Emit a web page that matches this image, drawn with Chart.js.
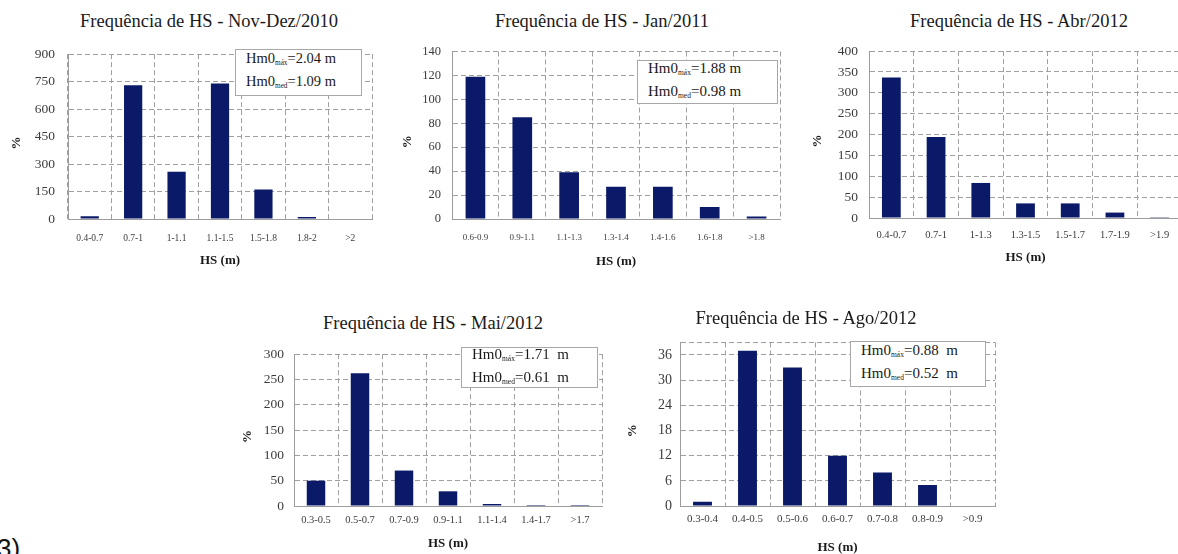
<!DOCTYPE html>
<html>
<head>
<meta charset="utf-8">
<script src="https://cdn.jsdelivr.net/npm/chart.js@4.4.1/dist/chart.umd.min.js"></script>
<style>
  html, body { margin: 0; padding: 0; background: #fff; }
  body { width: 1178px; height: 554px; position: relative; overflow: hidden; font-family: "Liberation Serif", serif; }
  canvas { position: absolute; }
  .title { position: absolute; transform: translate(-50%, -50%); white-space: nowrap; font-size: 18.5px; color: #1a1a1a; }
  .info { position: absolute; box-sizing: border-box; border: 1px solid #a8a8a8; background: #fff;
          display: flex; flex-direction: column; justify-content: center; padding-left: 10px; color: #1a1a1a; white-space: nowrap; }
  .info sub { font-size: 0.5em; vertical-align: -0.25em; }
  .tag { position: absolute; left: -3px; top: 533px; font-family: "Liberation Sans", sans-serif; font-size: 26px; color: #111; }
</style>
</head>
<body>
<script>
// ---------------- DATA ----------------
const novDez2010Labels = ['0.4-0.7', '0.7-1', '1-1.1', '1.1-1.5', '1.5-1.8', '1.8-2', '>2'];
const novDez2010Values = [15, 730, 258, 740, 161, 11, 0];
const novDez2010YTicks = [0, 150, 300, 450, 600, 750, 900];

const jan2011Labels = ['0.6-0.9', '0.9-1.1', '1.1-1.3', '1.3-1.4', '1.4-1.6', '1.6-1.8', '>1.8'];
const jan2011Values = [119, 85, 39, 27, 27, 10, 2];
const jan2011YTicks = [0, 20, 40, 60, 80, 100, 120, 140];

const abr2012Labels = ['0.4-0.7', '0.7-1', '1-1.3', '1.3-1.5', '1.5-1.7', '1.7-1.9', '>1.9'];
const abr2012Values = [337, 194, 84, 35, 35, 13, 2];
const abr2012YTicks = [0, 50, 100, 150, 200, 250, 300, 350, 400];

const mai2012Labels = ['0.3-0.5', '0.5-0.7', '0.7-0.9', '0.9-1.1', '1.1-1.4', '1.4-1.7', '>1.7'];
const mai2012Values = [50, 262, 70, 29, 4, 2, 2];
const mai2012YTicks = [0, 50, 100, 150, 200, 250, 300];

const ago2012Labels = ['0.3-0.4', '0.4-0.5', '0.5-0.6', '0.6-0.7', '0.7-0.8', '0.8-0.9', '>0.9'];
const ago2012Values = [1, 37, 33, 12, 8, 5, 0];
const ago2012YTicks = [0, 6, 12, 18, 24, 30, 36];

const chartTitles = ['Frequência de HS - Nov-Dez/2010', 'Frequência de HS - Jan/2011', 'Frequência de HS - Abr/2012',
                     'Frequência de HS - Mai/2012', 'Frequência de HS - Ago/2012'];
const hmaxTexts = ['2.04 m', '1.88 m', null, '1.71&nbsp; m', '0.88&nbsp; m'];
const hmedTexts = ['1.09 m', '0.98 m', null, '0.61&nbsp; m', '0.52&nbsp; m'];
const xAxisTitle = 'HS (m)';
const yAxisTitle = '%';

// ---------------- LAYOUT ----------------
const BAR = '#0b1a68';
const GRID = '#a0a0a0';
const TICK = '#3c3c3c';

const layouts = [
  { L: 68,  T: 42,  R: 372,  B: 219, yW: 59, xH: 49, yMax: 900, xFont: 9.5,  yFont: 13.5, yPad: 13, xPad: 14,
    title: [209, 21], info: [235, 49, 127, 47, 14.5] },
  { L: 452, T: 42,  R: 780,  B: 219, yW: 52, xH: 50, yMax: 140, xFont: 9,    yFont: 12.5, yPad: 11, xPad: 13,
    title: [602, 21], info: [637, 60, 141, 44, 15] },
  { L: 869, T: 41,  R: 1182, B: 218, yW: 59, xH: 47, yMax: 400, xFont: 10.5, yFont: 13.5, yPad: 11, xPad: 11,
    title: [1019, 21], info: null },
  { L: 294, T: 345, R: 602,  B: 506, yW: 54, xH: 45, yMax: 300, xFont: 10.5, yFont: 13.5, yPad: 10, xPad: 8,
    title: [433, 323], info: [461, 347, 137, 41, 15] },
  { L: 680, T: 335, R: 995,  B: 506, yW: 55, xH: 49, yMax: 39,  xFont: 11,   yFont: 14,   yPad: 8,  xPad: 7,
    title: [806, 318], info: [850, 341, 136, 46, 15] }
];

const datasets = [
  [novDez2010Labels, novDez2010Values, novDez2010YTicks],
  [jan2011Labels, jan2011Values, jan2011YTicks],
  [abr2012Labels, abr2012Values, abr2012YTicks],
  [mai2012Labels, mai2012Values, mai2012YTicks],
  [ago2012Labels, ago2012Values, ago2012YTicks]
];

const PAD_TOP = 9, PAD_RIGHT = 2;

datasets.forEach(([labels, values, yTicks], i) => {
  const c = layouts[i];
  const cv = document.createElement('canvas');
  const left = c.L - c.yW, top = c.T - PAD_TOP;
  const w = c.R - c.L + c.yW + PAD_RIGHT, h = c.B - c.T + PAD_TOP + c.xH;
  cv.width = w; cv.height = h;
  cv.style.left = left + 'px'; cv.style.top = top + 'px';
  cv.style.width = w + 'px'; cv.style.height = h + 'px';
  document.body.appendChild(cv);

  new Chart(cv, {
    type: 'bar',
    data: { labels: labels, datasets: [{ data: values, backgroundColor: BAR, borderWidth: 0,
                                         barPercentage: 0.42, categoryPercentage: 1.0 }] },
    options: {
      responsive: false, animation: false, devicePixelRatio: 1,
      layout: { padding: { top: PAD_TOP, right: PAD_RIGHT, left: 0, bottom: 0 } },
      plugins: { legend: { display: false }, tooltip: { enabled: false } },
      scales: {
        x: {
          offset: true,
          grid: { offset: true, color: GRID, lineWidth: 1, drawTicks: false },
          border: { display: true, color: '#9c9c9c', width: 1, dash: [5, 3] },
          ticks: { autoSkip: false, maxRotation: 0, minRotation: 0, padding: c.xPad, color: TICK,
                   font: { family: 'Liberation Serif', size: c.xFont } },
          title: { display: true, text: xAxisTitle, color: '#1a1a1a', padding: 0,
                   font: { family: 'Liberation Serif', size: 13, weight: 'bold' } },
          afterFit: (s) => { s.height = c.xH; }
        },
        y: {
          min: 0, max: c.yMax,
          grid: { color: GRID, lineWidth: 1, drawTicks: false },
          border: { display: true, color: '#9c9c9c', width: 1, dash: [5, 3] },
          afterBuildTicks: (s) => {
            const t = yTicks.map(v => ({ value: v }));
            if (yTicks[yTicks.length - 1] !== c.yMax) t.push({ value: c.yMax });
            s.ticks = t;
          },
          ticks: { padding: c.yPad, color: TICK, font: { family: 'Liberation Serif', size: c.yFont },
                   callback: (v) => (yTicks.includes(v) ? String(v) : '') },
          title: { display: true, text: yAxisTitle + '\u2003', color: '#1a1a1a', padding: 0,
                   font: { family: 'Liberation Serif', size: 13, weight: 'bold' } },
          afterFit: (s) => { s.width = c.yW; }
        }
      }
    }
  });

  const t = document.createElement('div');
  t.className = 'title';
  t.textContent = chartTitles[i];
  t.style.left = c.title[0] + 'px'; t.style.top = c.title[1] + 'px';
  document.body.appendChild(t);

  if (c.info) {
    const b = document.createElement('div');
    b.className = 'info';
    b.style.left = c.info[0] + 'px'; b.style.top = c.info[1] + 'px';
    b.style.width = c.info[2] + 'px'; b.style.height = c.info[3] + 'px';
    b.style.fontSize = c.info[4] + 'px';
    b.style.lineHeight = (c.info[4] * 1.2) + 'px';
    b.innerHTML = '<div>Hm0<sub>máx</sub>=' + hmaxTexts[i] + '</div><div>Hm0<sub>med</sub>=' + hmedTexts[i] + '</div>';
    document.body.appendChild(b);
  }
});

const tag = document.createElement('div');
tag.className = 'tag';
tag.textContent = '3)';
document.body.appendChild(tag);
</script>
</body>
</html>
